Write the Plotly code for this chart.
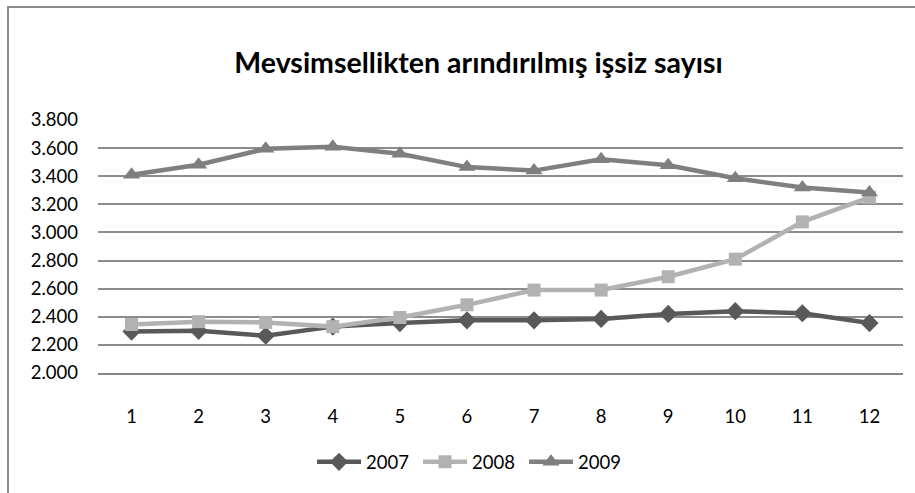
import plotly.graph_objects as go

# Months of the year (category axis)
months = [str(m) for m in range(1, 13)]

# Seasonally adjusted number of unemployed (thousands)
s2007 = [2295, 2300, 2265, 2330, 2355, 2375, 2375, 2385, 2420, 2440, 2425, 2355]
s2008 = [2345, 2365, 2360, 2330, 2395, 2485, 2590, 2590, 2685, 2810, 3075, 3250]
s2009 = [3410, 3482, 3595, 3610, 3560, 3465, 3440, 3520, 3478, 3385, 3320, 3285]

y_ticks = [2000, 2200, 2400, 2600, 2800, 3000, 3200, 3400, 3600, 3800]
y_tick_text = ["2.000", "2.200", "2.400", "2.600", "2.800", "3.000", "3.200", "3.400", "3.600", "3.800"]

W, H = 915, 493
L, R, T, B = 98, 12, 120, 118
pw, ph = W - L - R, H - T - B


def px(x):
    return (x - L) / pw


def py(y):
    return (H - B - y) / ph


series = [
    ("2007", s2007, "#595959", "diamond", 14),
    ("2008", s2008, "#b2b2b2", "square", 13),
    ("2009", s2009, "#7f7f7f", "triangle-up", 15),
]

fig = go.Figure()
for name, vals, color, sym, size in series:
    fig.add_trace(go.Scatter(
        x=months, y=vals, name=name, mode="lines+markers",
        line=dict(color=color, width=4.5),
        marker=dict(symbol=sym, size=size, color=color, line=dict(width=0)),
    ))

# Chart-area frame (left and top edges)
frame = dict(type="line", xref="paper", yref="paper",
             line=dict(color="#8c8c8c", width=2), layer="above")
fig.add_shape(**frame, x0=px(8), x1=px(8), y0=py(H + 5), y1=py(6))
fig.add_shape(**frame, x0=px(7), x1=px(W + 5), y0=py(6), y1=py(6))

FONT = "Lato, 'Open Sans', sans-serif"

fig.update_layout(
    width=W, height=H,
    margin=dict(l=L, r=R, t=T, b=B, pad=0),
    paper_bgcolor="white", plot_bgcolor="white",
    font=dict(family=FONT, size=18, color="#000000"),
    title=dict(
        text="<b>Mevsimsellikten arındırılmış işsiz sayısı</b>",
        x=0.523, xanchor="center", y=1 - 63 / H, yanchor="middle",
        font=dict(size=28.5, family=FONT, color="#000000"),
    ),
    xaxis=dict(
        type="category", range=[-0.5, 11.5],
        showgrid=False, showline=True, linecolor="#868686", linewidth=2,
        ticks="", ticklen=0, tickfont=dict(size=18.5),
        ticklabelstandoff=26, zeroline=False,
    ),
    yaxis=dict(
        range=[2000, 3800], tickvals=y_ticks, ticktext=y_tick_text,
        showgrid=True, gridcolor="#8c8c8c", gridwidth=1.5,
        showline=False, zeroline=False, ticks="", ticklabelstandoff=19,
        tickfont=dict(size=18.5),
    ),
    legend=dict(
        orientation="h", x=px(312), xanchor="left", y=py(465), yanchor="middle",
        font=dict(size=18.5), tracegroupgap=0, itemwidth=44,
        entrywidth=47, entrywidthmode="pixels",
    ),
    showlegend=True,
)

fig.write_html("out.html")
